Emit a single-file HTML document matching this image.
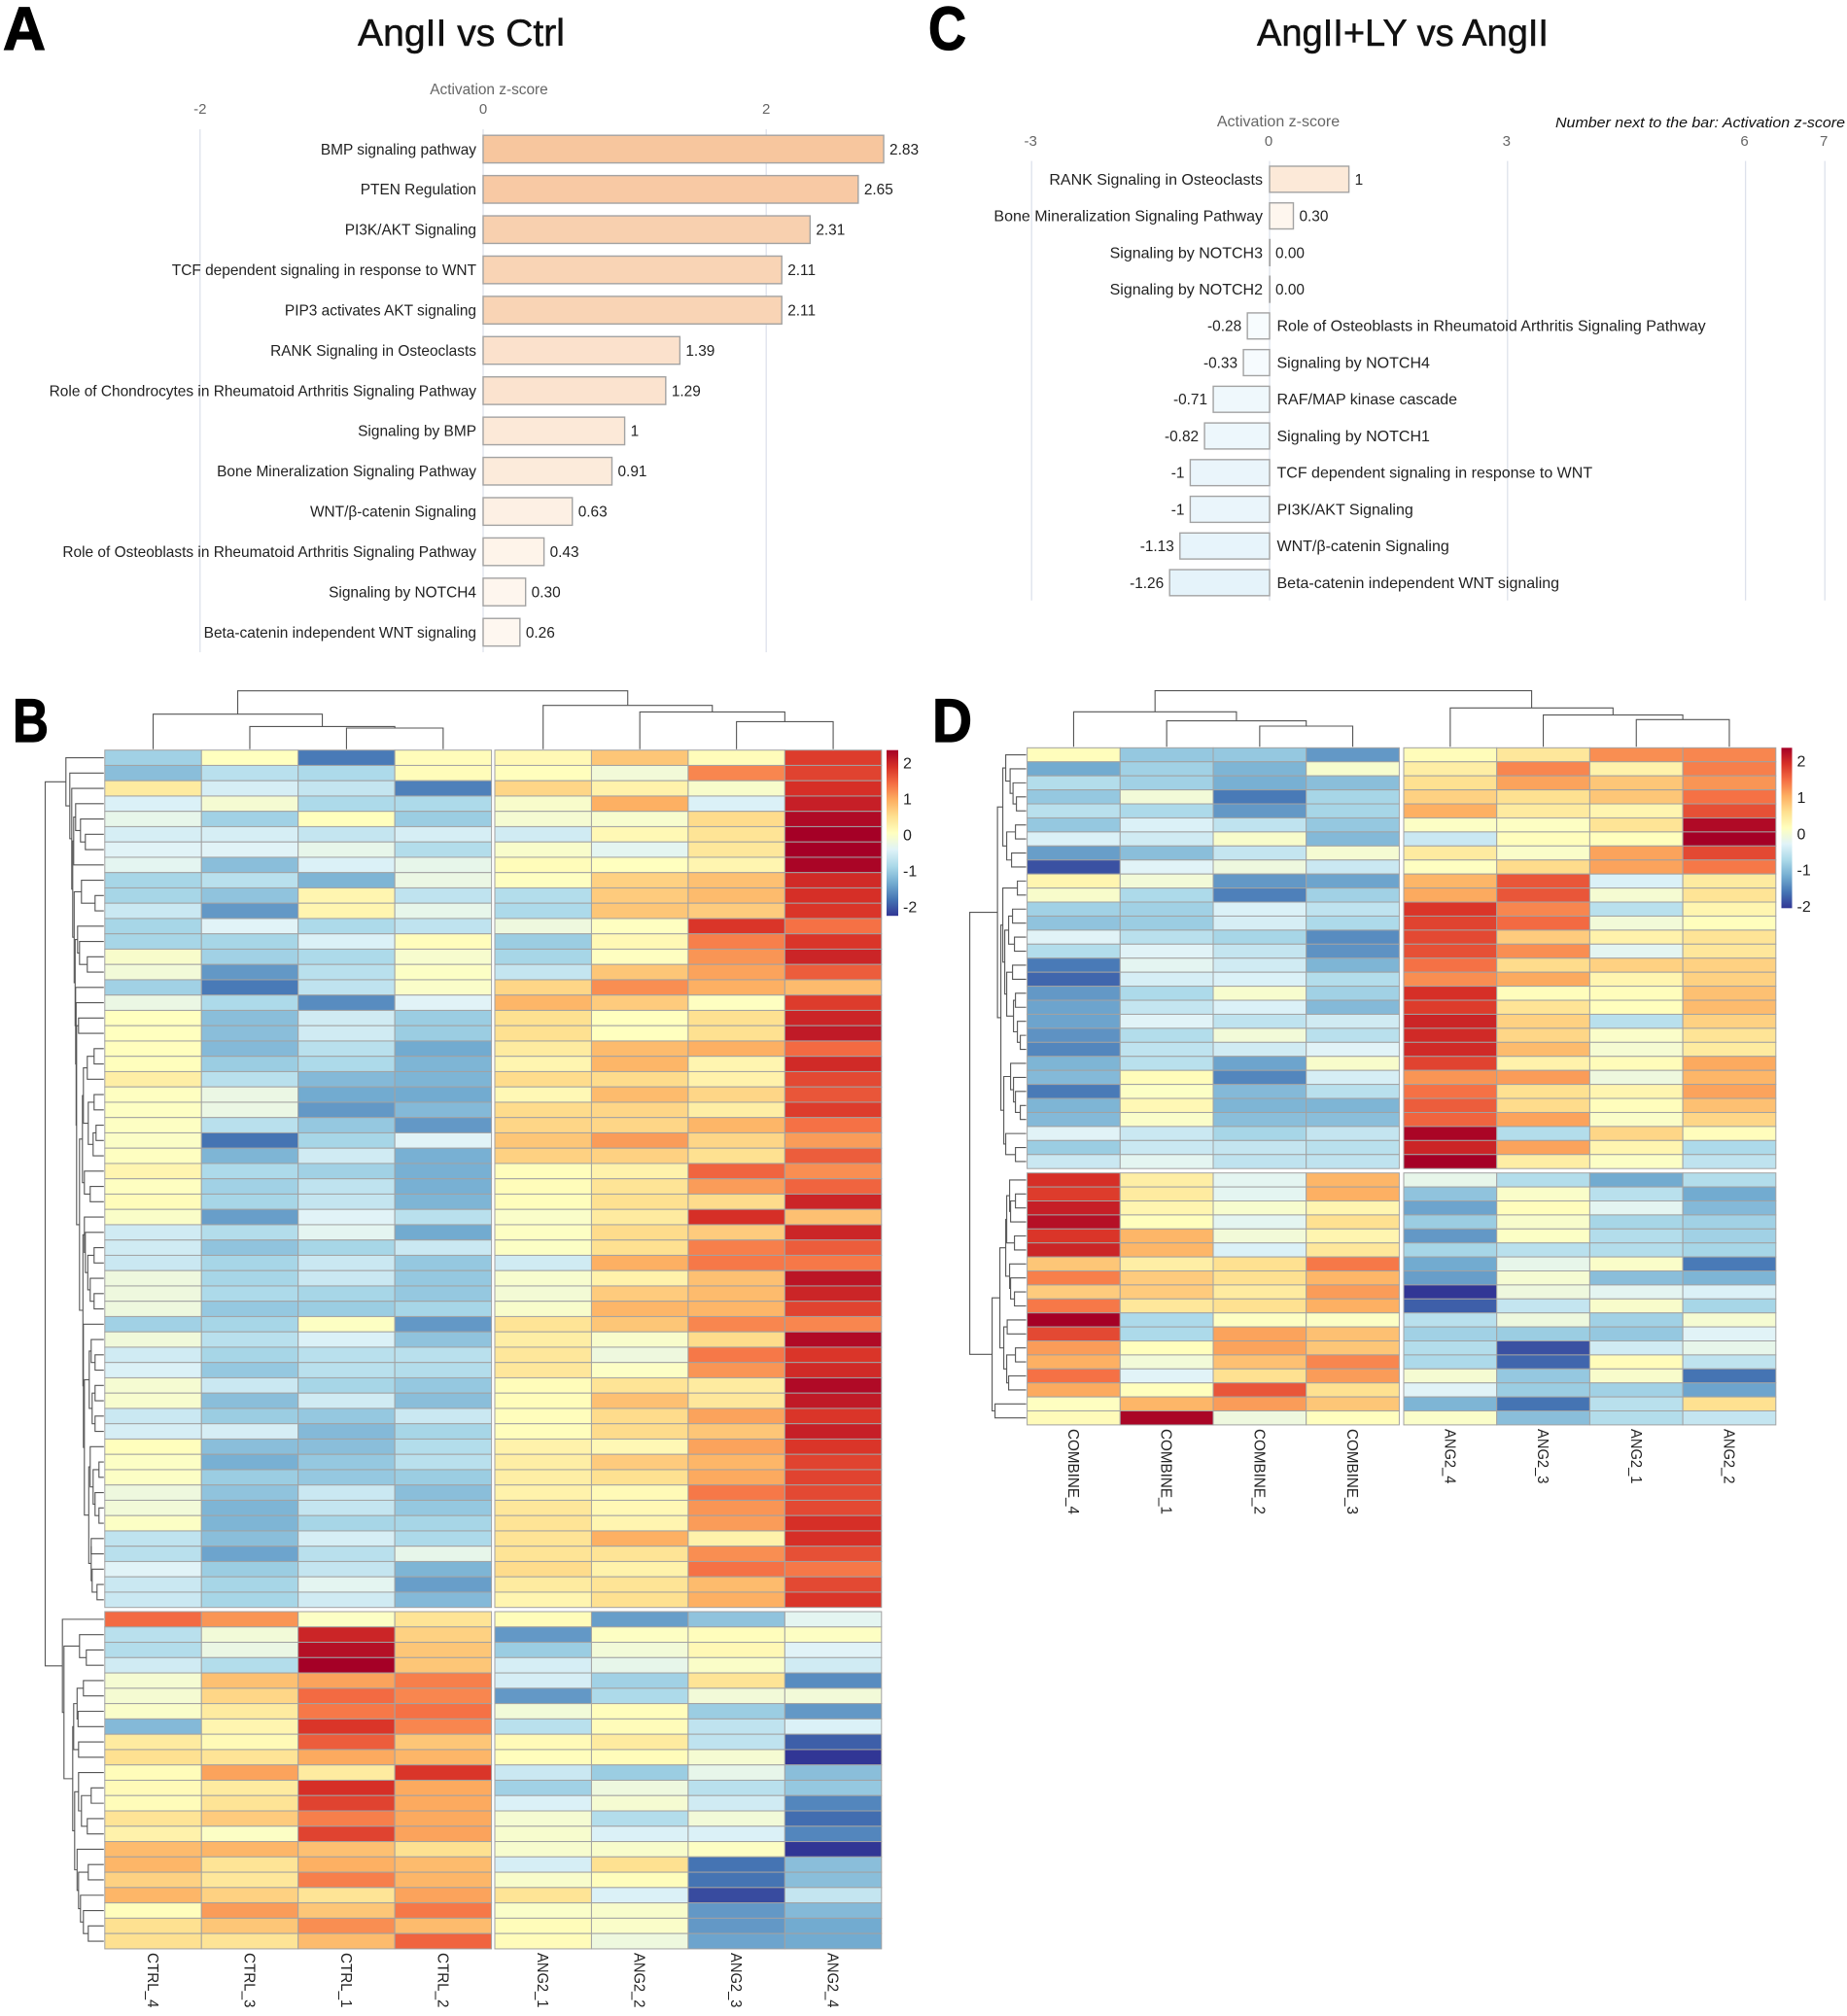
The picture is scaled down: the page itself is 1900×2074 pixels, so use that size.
<!DOCTYPE html>
<html lang="en">
<head>
<meta charset="utf-8">
<title>AngII pathway activation and heatmaps</title>
<style>
html,body{margin:0;padding:0;background:#fff;}
svg{display:block;}
text{font-family:"Liberation Sans",sans-serif;}
</style>
</head>
<body>
<svg id="fig" xmlns="http://www.w3.org/2000/svg" width="1900" height="2074" viewBox="0 0 1900 2074">
<text x="3" y="51" font-size="63" font-weight="bold" stroke="#000" stroke-width="1.2" textLength="44" lengthAdjust="spacingAndGlyphs">A</text>
<text x="13" y="763" font-size="63" font-weight="bold" stroke="#000" stroke-width="1.2" textLength="37" lengthAdjust="spacingAndGlyphs">B</text>
<text x="955" y="51" font-size="63" font-weight="bold" stroke="#000" stroke-width="1.2" textLength="39" lengthAdjust="spacingAndGlyphs">C</text>
<text x="959" y="763" font-size="63" font-weight="bold" stroke="#000" stroke-width="1.2" textLength="41" lengthAdjust="spacingAndGlyphs">D</text>
<text x="368" y="47" font-size="39" fill="#111" stroke="#111" stroke-width="0.5" textLength="213" lengthAdjust="spacingAndGlyphs">AngII vs Ctrl</text>
<text x="1293" y="47" font-size="39" fill="#111" stroke="#111" stroke-width="0.5" textLength="300" lengthAdjust="spacingAndGlyphs">AngII+LY vs AngII</text>
<text x="503" y="97" font-size="15.4" fill="#666" text-anchor="middle">Activation z-score</text>
<text x="1315" y="130" font-size="16" fill="#666" text-anchor="middle">Activation z-score</text>
<text x="1600" y="131" font-size="15" font-style="italic" fill="#111" textLength="298" lengthAdjust="spacingAndGlyphs">Number next to the bar: Activation z-score</text>
</svg>
<script>
// ---------- Bar chart A ----------
const aCategories = ["BMP signaling pathway","PTEN Regulation","PI3K/AKT Signaling","TCF dependent signaling in response to WNT","PIP3 activates AKT signaling","RANK Signaling in Osteoclasts","Role of Chondrocytes in Rheumatoid Arthritis Signaling Pathway","Signaling by BMP","Bone Mineralization Signaling Pathway","WNT/β-catenin Signaling","Role of Osteoblasts in Rheumatoid Arthritis Signaling Pathway","Signaling by NOTCH4","Beta-catenin independent WNT signaling"];
const aValues = [2.83,2.65,2.31,2.11,2.11,1.39,1.29,1,0.91,0.63,0.43,0.30,0.26];
const aPrinted = ["2.83","2.65","2.31","2.11","2.11","1.39","1.29","1","0.91","0.63","0.43","0.30","0.26"];
const aTicks = [-2,0,2];

// ---------- Bar chart C ----------
const cCategories = ["RANK Signaling in Osteoclasts","Bone Mineralization Signaling Pathway","Signaling by NOTCH3","Signaling by NOTCH2","Role of Osteoblasts in Rheumatoid Arthritis Signaling Pathway","Signaling by NOTCH4","RAF/MAP kinase cascade","Signaling by NOTCH1","TCF dependent signaling in response to WNT","PI3K/AKT Signaling","WNT/β-catenin Signaling","Beta-catenin independent WNT signaling"];
const cValues = [1,0.30,0,0,-0.28,-0.33,-0.71,-0.82,-1,-1,-1.13,-1.26];
const cPrinted = ["1","0.30","0.00","0.00","-0.28","-0.33","-0.71","-0.82","-1","-1","-1.13","-1.26"];
const cTicks = [-3,0,3,6,7];

// ---------- Heatmap B ----------
const bColumns = ["CTRL_4","CTRL_3","CTRL_1","CTRL_2","ANG2_1","ANG2_2","ANG2_3","ANG2_4"];
const bUpper = [
[-1,0,-1.8,.05,.1,.7,.05,1.75],[-1.2,-.8,-.9,.05,.02,-.2,1.2,1.7],[.3,-.55,-.7,-1.75,.55,.2,-.1,1.85],[-.5,-.15,-.9,-.9,-.1,.9,-.5,2],
[-.35,-1,.02,-1.05,-.15,-.12,.5,2.2],[-.55,-.55,-.7,-.55,-.6,.1,.4,2.3],[-.45,-.45,-.35,-.85,-.1,-.4,.35,2.3],[-.4,-1.2,-.5,-.35,.05,0,.15,2.25],
[-.95,-.8,-1.3,-.3,-.02,.6,.75,1.9],[-.95,-1.15,.15,-.75,-.85,.65,.8,1.85],[-.65,-1.55,.15,-.35,-.9,.7,.65,1.8],[-.95,-.45,-.9,-.75,-.25,-.02,1.8,1.35],
[-.95,-.95,-.5,.03,-1.05,.1,1.25,1.8],[-.1,-1,-.9,-.12,-.95,-.02,1.1,1.95],[-.2,-1.55,-.8,-.05,-.7,.7,1,1.5],[-1,-1.8,-.75,-.08,.55,1.15,.9,.8],
[-.3,-.9,-1.65,-.45,.85,.65,-.02,1.75],[0,-1.2,-.6,-1.05,.45,0,.45,1.95],[0,-1.2,-.6,-1.05,.45,0,.45,2.05],[.02,-1.25,-.8,-1.4,.3,.8,.9,1.4],
[.02,-1.05,-.9,-1.3,.15,.85,.15,1.9],[.25,-.8,-1.25,-1.3,.5,.5,.2,1.65],[-.02,-.3,-1.4,-1.4,.1,.8,.55,1.55],[-.03,-.3,-1.55,-1.25,.5,.55,.25,1.75],
[-.03,-.8,-1.1,-1.55,.55,.55,.85,1.35],[-.06,-1.85,-.95,-.45,.7,1.05,.55,1.05],[-.02,-1.3,-.6,-1.35,.6,.6,.45,1.5],[.15,-.9,-1,-1.35,.03,.2,1.45,1.15],
[-.02,-1,-.75,-1.35,.05,.4,1.05,1.45],[.05,-.95,-.7,-1.3,.03,.45,.5,1.95],[-.07,-1.5,-.45,-.8,-.08,.3,1.85,.75],[-.6,-.85,-.4,-1.4,-.03,.5,.65,1.95],
[-.6,-1.15,-.95,-.65,-.05,.45,1.25,1.5],[-.65,-.95,-.65,-1.1,-.6,.9,1.3,1.3],[-.25,-.95,-.65,-1.1,-.12,.2,.75,2.1],[-.25,-.9,-.95,-1.1,-.18,.65,.8,1.95],
[-.25,-1.1,-1.05,-.95,-.1,.85,.85,1.7],[-1,-.95,-.03,-1.55,.4,.7,1.2,1.2],[-.22,-.8,-.5,-1.15,.25,-.1,.5,2.2],[-.6,-.95,-.8,-.8,.35,-.25,1.3,1.8],
[-.5,-1.1,-.8,-.85,.35,-.05,1.1,1.9],[-.15,-.65,-.95,-1.1,.05,.4,.3,2.2],[-.12,-1.2,-.6,-1.2,.05,.75,.35,2.05],[-.65,-1.05,-1.1,-.65,.03,.5,1,1.8],
[-.55,-.55,-1.25,-.95,.03,.5,.7,2],[.02,-1.2,-1.2,-.85,.2,.1,1,1.8],[-.05,-1.35,-1.1,-.8,.25,.65,.85,1.7],[-.05,-1.05,-1.1,-1.05,.25,.45,.95,1.7],
[-.25,-1.15,-.65,-1.2,.2,.08,1.3,1.65],[-.2,-1.3,-.7,-1.1,.35,.1,1.1,1.65],[-.05,-1.3,-.95,-.95,.4,.15,1.05,1.85],[-.75,-1.2,-.55,-.9,.4,.9,.2,1.85],
[-.8,-1.45,-.8,-.35,.4,.4,1.15,1.6],[-.45,-1.05,-.7,-1.3,.5,.2,1.35,1.3],[-.65,-.95,-.4,-1.5,.3,.4,.8,1.65],[-.65,-.95,-.6,-1.25,.15,.45,.9,1.8]
];
const bLower = [
[1.4,1.1,-.05,.4,.05,-1.5,-1.15,-.4],[-.8,-.2,1.95,.6,-1.55,-.03,.03,-.03],[-.85,-.3,2.15,.7,-1.05,-.2,.1,-.45],[-.6,-.85,2.3,.7,-.55,-.35,-.07,-.6],
[-.15,.75,1,1.25,-.55,-1,.4,-1.65],[-.15,.55,1.4,1.2,-1.55,-.9,-.2,-.2],[-.08,.3,1.3,1.35,-.2,.03,-1.05,-1.55],[-1.25,.15,1.8,1.2,-.8,.05,-.75,-.5],
[.3,.08,1.5,.7,.07,.3,-.75,-2],[.45,.4,.95,.85,.03,.05,-.15,-2.3],[.05,1,.3,1.8,-.65,-1.05,-.35,-1.2],[.07,.3,1.85,.95,-1,-.25,-.8,-1.1],
[.05,.4,1.7,.95,-.5,-.15,-.6,-1.7],[.4,.65,1.25,.95,-.15,-.85,-.2,-1.9],[.2,-.05,1.7,1,-.12,-.5,-.5,-1.7],[.8,.85,.75,.45,-.12,-.1,-.03,-2.3],
[.85,.4,.9,.8,-.55,.45,-1.85,-1.2],[.6,.35,1.25,.85,-.1,.03,-1.85,-1.2],[.85,.6,.4,1,.4,-.5,-2.15,-.7],[.03,1.05,.7,1.3,-.08,-.1,-1.55,-1.25],
[.45,.7,1.15,.8,.05,-.08,-1.55,-1.4],[.45,.4,.8,1.45,.05,-.25,-1.45,-1.4]
];

// ---------- Heatmap D ----------
const dColumns = ["COMBINE_4","COMBINE_1","COMBINE_2","COMBINE_3","ANG2_4","ANG2_3","ANG2_1","ANG2_2"];
const dUpper = [
[.03,-1.1,-1.1,-1.55,.05,.35,1.15,1.2],[-1.4,-1,-1.3,-.12,.25,1.2,.2,1.25],[-.85,-1,-1.35,-1.2,.45,1,.7,1.1],[-1.1,-.2,-1.8,-.95,.6,.45,.7,1.35],
[-.8,-.9,-1.55,-.95,.9,.3,.15,1.6],[-1.1,-.5,-.75,-1.1,-.05,-.03,.4,2.2],[-.5,-.6,-.1,-1.25,-.65,.03,.02,2.3],[-1.5,-1.2,-.7,-.15,.3,-.08,1,1.65],
[-2.1,-.45,-.25,-.65,-.02,.5,1,1.3],[.15,-.2,-1.55,-1.45,.85,1.55,-.5,.3],[-.1,-.9,-1.75,-1,.95,1.55,-.15,.4],[-1,-1,-.5,-.75,1.8,1.2,-.8,.15],
[-1.15,-1.05,-.55,-.9,1.7,1.4,-.2,.02],[-.45,-.8,-.95,-1.65,1.65,.65,.2,.4],[-.85,-.45,-.7,-1.6,1.6,1.15,-.4,.35],[-1.8,-.4,-.6,-1.3,1.35,.5,.6,.6],
[-1.95,-.55,-.5,-.85,1.15,.95,.15,.6],[-1.55,-.9,-.12,-1,1.85,.03,.03,.75],[-1.45,-.7,-.5,-1.25,1.75,.4,.02,.8],[-1.45,-.45,-.75,-.6,1.95,.6,-.8,.6],
[-1.6,-.85,-.2,-.8,1.9,.55,-.08,.4],[-1.7,-.75,-.6,-.45,1.9,.8,-.15,.3],[-1.3,-.8,-1.45,-.1,1.7,.2,.05,.95],[-1.25,.05,-1.7,-.55,1.1,1.05,-.25,.85],
[-1.8,-.05,-1.25,-.8,1.35,.45,.15,1],[-1.3,.1,-1.3,-1.3,1.5,.5,.03,.75],[-1.25,-.08,-1.2,-1.2,1.45,1,-.07,.55],[-.45,-.65,-.95,-.7,2.25,-.85,.55,.03],
[-1.05,-.65,-.7,-.8,1.95,1,.15,-.9],[-.65,-.4,-.75,-.75,2.3,.25,-.05,-.75]
];
const dLower = [
[1.85,.25,-.4,.85,-.35,-.85,-1.4,-.85],[1.75,.3,-.4,.9,-1.15,-.08,-.8,-1.4],[2,.15,-.12,.15,-1.45,.03,-.4,-1.25],[2.15,.02,-.4,.45,-1.05,-.1,-.95,-1],
[1.8,.85,-.2,.15,-1.55,-.05,-.85,-1],[1.95,.85,-.5,.35,-.95,-.8,-.85,-.95],[.7,.25,.45,1.3,-1.4,-.35,-.08,-1.8],[1.25,.65,.45,.85,-1.5,-.15,-1.2,-1.3],
[.65,.65,.3,1.05,-2.3,-.25,-.4,-.5],[1.3,.35,.45,.9,-2,-.7,-.1,-.95],[2.3,-.9,-.03,-.05,-.8,-.25,-1,-.15],[1.65,-.9,1,.75,-1,-1.05,-1.1,-.45],
[1.05,.02,1,.7,-.85,-2.1,-.6,-.35],[.9,-.2,.75,1.2,-.9,-1.95,.05,-.75],[1.35,-.45,.45,1.05,-.15,-1.1,-.1,-1.85],[.95,.02,1.55,.45,-.45,-1.05,-1,-1.45],
[-.02,.85,1.05,.7,-1.3,-1.85,-.8,.45],[.06,2.25,-.25,.01,-.08,-1.2,-.85,-.7]
];

// Dendrogram merge heights: [height, childA, childB]; L marks the next leaf in display order.
const L = 0;
const bColTree = [60,[36,L,[23.3,L,[21.7,L,L]]],[45,L,[38.3,L,[28.3,L,L]]]];
const dColTree = [57.7,[36,L,[26.7,L,[21.3,L,L]]],[40,L,[32.7,L,[28,L,L]]]];
const bRowTree = [60.3,
 [39,L,[35,L,[33,L,[32,[31,[29,L,[24,L,[19,L,L]]],L],
  [30.5,[23,L,[9,L,L]],
   [29.5,[27,L,[25,L,[17,L,L]]],
    [29,L,[28.5,L,[28,[26,L,L],
     [25,[22,[21,[17,[10,L,L],L],[16,[10,L,L],[11,[8,L,L],L]]],[20,L,[14,L,L]]],
      [21.5,[20,L,[19,L,[16.5,[10,L,L],[14,L,[10,L,L]]]]],
       [21,L,[20,[15,[13,L,[9,L,L]],[12,[9,L,L],[9,L,L]]],
        [15.5,[14,L,[11,[5,L,L],[9,L,[5,L,L]]]],[13,[13,L,L],[12,L,[7,L,L]]]]]]]]]]]]]]]]],
 [42.6,L,[41,[25,L,[18,L,L]],[32,[31,[27.5,[21,L,L],[26.5,L,L]],[26,L,L]],[30,[26,L,[23,[13,L,L],[17,L,L]]],[27.5,L,[26,[16,L,L],[24,L,[21,L,[16,L,L]]]]]]]]]
];
const dRowTree = [58,
 [29.5,[24,[21,L,[16.5,L,[13.5,L,[10,L,L]]]],[20,[11,L,L],[15,L,L]]],
  [26,[24,[9,L,L],[22,[18,[14,L,L],[12,L,L]],[20,[14,L,L],[13,[11,L,L],[9,L,[6,L,L]]]]]],
   [23,[16,L,[13,L,[11,L,[6,L,L]]]],[21,L,[11,L,L]]]]],
 [35,[27,[21,[20,[17,L,[16,[11,L,L],L]],[12,L,L]],[17,L,[16,L,[12,L,L]]]],[23,[19.5,L,L],[20,[11,L,L],[18,L,L]]]],[32,L,L]]
];

// Colour scale stops
const scaleColors = ["#313695","#4575B4","#74ADD1","#ABD9E9","#E0F3F8","#FFFFBF","#FEE090","#FDAE61","#F46D43","#D73027","#A50026"];
const scaleMin = -2.3;
const scaleMax = 2.3;
const legendTicks = [2,1,0,-1,-2];

const NS = "http://www.w3.org/2000/svg";
const svg = document.getElementById("fig");
function mk(tag, attrs, text){
  const e = document.createElementNS(NS, tag);
  for (const k in attrs) e.setAttribute(k, attrs[k]);
  if (text !== undefined) e.textContent = text;
  svg.appendChild(e);
  return e;
}
function hex(c){ return [1,3,5].map(i => parseInt(c.substr(i,2),16)); }
function mix(a,b,t){ return "rgb(" + a.map((v,i)=>Math.round(v+(b[i]-v)*t)).join(",") + ")"; }
function heatColor(v){
  const f = Math.max(0,Math.min(0.9999,(v-scaleMin)/(scaleMax-scaleMin)))*(scaleColors.length-1);
  const i = Math.floor(f);
  return mix(hex(scaleColors[i]),hex(scaleColors[i+1]),f-i);
}
function barColor(v){
  if (v >= 0) return mix([255,252,248],[247,198,158],Math.min(1,v/2.83));
  return mix([252,254,255],[229,243,250],Math.min(1,-v/1.26));
}

// ---------- draw bar chart A ----------
const ax = v => 497 + v*145.6;
const ay = i => 153.4 + i*41.42;
aTicks.forEach(t => {
  const grid = mk("line",{x1:ax(t),x2:ax(t),y1:133,y2:671,stroke:"#dde1ec","stroke-width":1.3});
  
  
  const lab = mk("text",{x:ax(t),y:117,"font-size":15,fill:"#666","text-anchor":"middle"},String(t));
  
  
});
aCategories.forEach((c,i) => {
  const bar = mk("rect",{x:ax(0),y:ay(i)-14.2,width:ax(aValues[i])-ax(0),height:28.4,fill:barColor(aValues[i]),stroke:"#a3a3a3","stroke-width":1.4});
  
  
  const cat = mk("text",{x:490,y:ay(i)+5.4,"font-size":15.45,fill:"#222","text-anchor":"end"},c);
  
  
  const val = mk("text",{x:ax(aValues[i])+6,y:ay(i)+5.4,"font-size":15.4,fill:"#222"},aPrinted[i]);
  
  
});

// ---------- draw bar chart C ----------
const cx = v => 1306 + v*81.6;
const cy = i => 184.4 + i*37.73;
cTicks.forEach(t => {
  const grid = mk("line",{x1:cx(t),x2:cx(t),y1:165.6,y2:617.7,stroke:"#dde1ec","stroke-width":1.3});
  
  
  const lab = mk("text",{x:cx(t)-1,y:150,"font-size":15,fill:"#666","text-anchor":"middle"},String(t));
  
  
});
cCategories.forEach((c,i) => {
  const v = cValues[i];
  const bar = mk("rect",{x:Math.min(cx(0),cx(v)),y:cy(i)-13.4,width:Math.max(0.4,Math.abs(cx(v)-cx(0))),height:26.8,fill:barColor(v),stroke:"#a3a3a3","stroke-width":1.4});
  
  
  const positive = v >= 0;
  const cat = mk("text",{x:positive?cx(0)-7:cx(0)+7.5,y:cy(i)+5.4,"font-size":16,fill:"#222","text-anchor":positive?"end":"start"},c);
  
  
  const val = mk("text",{x:positive?cx(v)+6:cx(v)-6,y:cy(i)+5.4,"font-size":15.4,fill:"#222","text-anchor":positive?"start":"end"},cPrinted[i]);
  
  
});

// ---------- heatmaps ----------
function drawHeatmap(p){
  const colX = j => j < 4 ? p.leftX + j*p.cellW : p.rightX + (j-4)*p.cellW;
  const rowCenters = [];
  [p.blocks[0],p.blocks[1]].forEach(b => {
    b.rows.forEach((row,r) => {
      const y = b.top + r*b.h;
      rowCenters.push(y + b.h/2);
      row.forEach((v,j) => {
        const cell = mk("rect",{x:colX(j),y:y,width:p.cellW,height:b.h,fill:heatColor(v),stroke:"#a2a2a2","stroke-width":1});
        
        
      });
    });
  });
  const lineStyle = {fill:"none",stroke:"#555","stroke-width":1.1};
  let colLeaf = 0;
  function colNode(n){
    if (n === L) { const x = colX(colLeaf) + p.cellW/2; colLeaf++; return {x:x,h:0}; }
    const a = colNode(n[1]), b = colNode(n[2]);
    const base = p.blocks[0].top - 1;
    const path = mk("path",Object.assign({d:`M${a.x} ${base-a.h}V${base-n[0]}H${b.x}V${base-b.h}`},lineStyle));
    
    
    return {x:(a.x+b.x)/2,h:n[0]};
  }
  colNode(p.colTree);
  let rowLeaf = 0;
  function rowNode(n){
    if (n === L) { const y = rowCenters[rowLeaf]; rowLeaf++; return {y:y,d:0}; }
    const a = rowNode(n[1]), b = rowNode(n[2]);
    const base = p.leftX - 1;
    const path = mk("path",Object.assign({d:`M${base-a.d} ${a.y}H${base-n[0]}V${b.y}H${base-b.d}`},lineStyle));
    
    
    return {y:(a.y+b.y)/2,d:n[0]};
  }
  rowNode(p.rowTree);
  p.columns.forEach((c,j) => {
    const x = colX(j) + p.cellW/2;
    const y = p.labelTop;
    const w = c.length > 6 ? p.longLabel : 56.5;
    const lab = mk("text",{x:x-5.5,y:y,transform:`rotate(90 ${x-5.5} ${y})`,"font-size":16,fill:"#222",textLength:w,lengthAdjust:"spacingAndGlyphs"},c);
    
    
  });
  const gid = p.id + "-grad";
  const defs = mk("defs",{});
  const grad = document.createElementNS(NS,"linearGradient");
  grad.setAttribute("id",gid);
  grad.setAttribute("x1","0"); grad.setAttribute("x2","0"); grad.setAttribute("y1","1"); grad.setAttribute("y2","0");
  scaleColors.forEach((c,i) => {
    const s = document.createElementNS(NS,"stop");
    s.setAttribute("offset",i/(scaleColors.length-1));
    s.setAttribute("stop-color",c);
    grad.appendChild(s);
  });
  defs.appendChild(grad);
  const bar = mk("rect",{x:p.legX,y:p.legTop,width:p.legW,height:p.legH,fill:`url(#${gid})`});
  
  
  legendTicks.forEach(t => {
    const lab = mk("text",{x:p.legX+p.legW+5,y:p.legZero - t*p.legUnit + 6,"font-size":16,fill:"#222"},String(t));
    
    
  });
}
drawHeatmap({id:"panel-b",columns:bColumns,leftX:107.8,rightX:509,cellW:99.45,
  blocks:[{rows:bUpper,top:771.7,h:15.75},{rows:bLower,top:1658,h:15.77}],
  colTree:bColTree,rowTree:bRowTree,labelTop:2009,longLabel:88,
  legX:912,legTop:771.7,legW:12,legH:170.5,legZero:858.5,legUnit:37});
drawHeatmap({id:"panel-d",columns:dColumns,leftX:1056.6,rightX:1444,cellW:95.7,
  blocks:[{rows:dUpper,top:769.3,h:14.43},{rows:dLower,top:1206.7,h:14.4}],
  colTree:dColTree,rowTree:dRowTree,labelTop:1470,longLabel:88,
  legX:1832.5,legTop:769.3,legW:11,legH:165,legZero:857.3,legUnit:37.3});
</script>
</body>
</html>
